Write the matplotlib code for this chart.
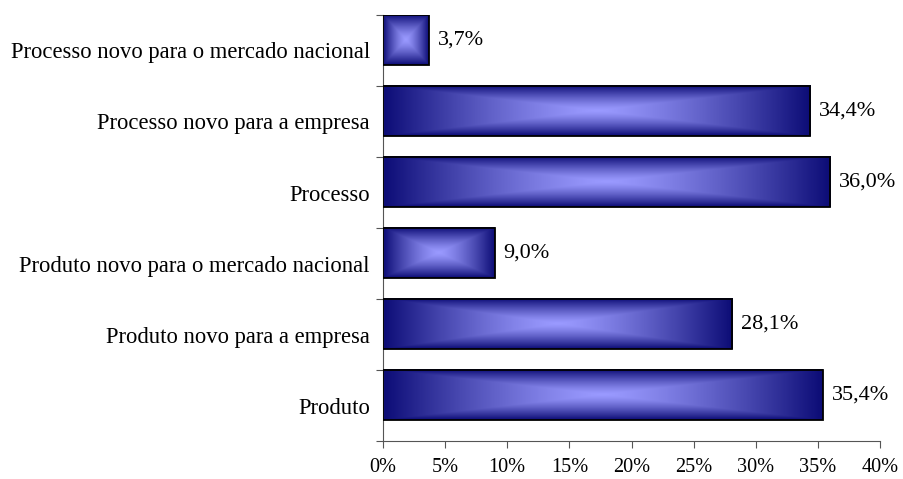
import numpy as np
import matplotlib.pyplot as plt
from matplotlib.colors import LinearSegmentedColormap

categories = ["Produto", "Produto novo para a empresa", "Produto novo para o mercado nacional",
              "Processo", "Processo novo para a empresa", "Processo novo para o mercado nacional"]
values = [35.4, 28.1, 9.0, 36.0, 34.4, 3.7]
value_labels = ["35,4%", "28,1%", "9,0%", "36,0%", "34,4%", "3,7%"]
x_ticks = [0, 5, 10, 15, 20, 25, 30, 35, 40]

plt.rcParams['font.family'] = ['Liberation Serif', 'DejaVu Serif']

cmap = LinearSegmentedColormap.from_list("bar", ["#9a9aff", "#0c0c76"])

fig = plt.figure(figsize=(9.04, 4.79), dpi=100)
ax = fig.add_axes([0.4237, 0.0793, 0.5498, 0.8894])

bar_h = 0.71
for i, v in enumerate(values):
    top = i + 0.5
    bottom = top - bar_h
    # gradient from the centre out to the rectangle edges
    u = np.linspace(-1, 1, 400)
    w = np.linspace(-1, 1, 100)
    U, W = np.meshgrid(u, w)
    t = np.maximum(np.abs(U), np.abs(W)) ** 1.3
    ax.imshow(t, cmap=cmap, extent=[0, v, bottom, top], aspect='auto',
              interpolation='bilinear', vmin=0, vmax=1, zorder=2)
    ax.add_patch(plt.Rectangle((0, bottom), v, bar_h, fill=False,
                               edgecolor='black', linewidth=1.3, zorder=3))
    ax.text(v + 0.7, (top + bottom) / 2, value_labels[i], va='center', ha='left',
            fontsize=16)

ax.set_xlim(0, 40)
ax.set_ylim(-0.5, len(values) - 0.5)
ax.set_xticks(x_ticks)
ax.set_xticklabels([f"{x}%" for x in x_ticks], fontsize=14.6)
ax.set_yticks(range(len(categories)))
ax.set_yticklabels(categories, fontsize=16.3)
ax.set_yticks(np.arange(-0.5, len(categories)), minor=True)
ax.tick_params(axis='y', which='major', length=0, pad=9.4)
ax.tick_params(axis='y', which='minor', length=5, width=0.8, color='#555555')
ax.tick_params(axis='x', length=5, width=0.8, color='#555555', pad=7)
for s in ['top', 'right']:
    ax.spines[s].set_visible(False)
for s in ['left', 'bottom']:
    ax.spines[s].set_color('#555555')
    ax.spines[s].set_linewidth(0.8)

fig.savefig("out.png", dpi=100)
